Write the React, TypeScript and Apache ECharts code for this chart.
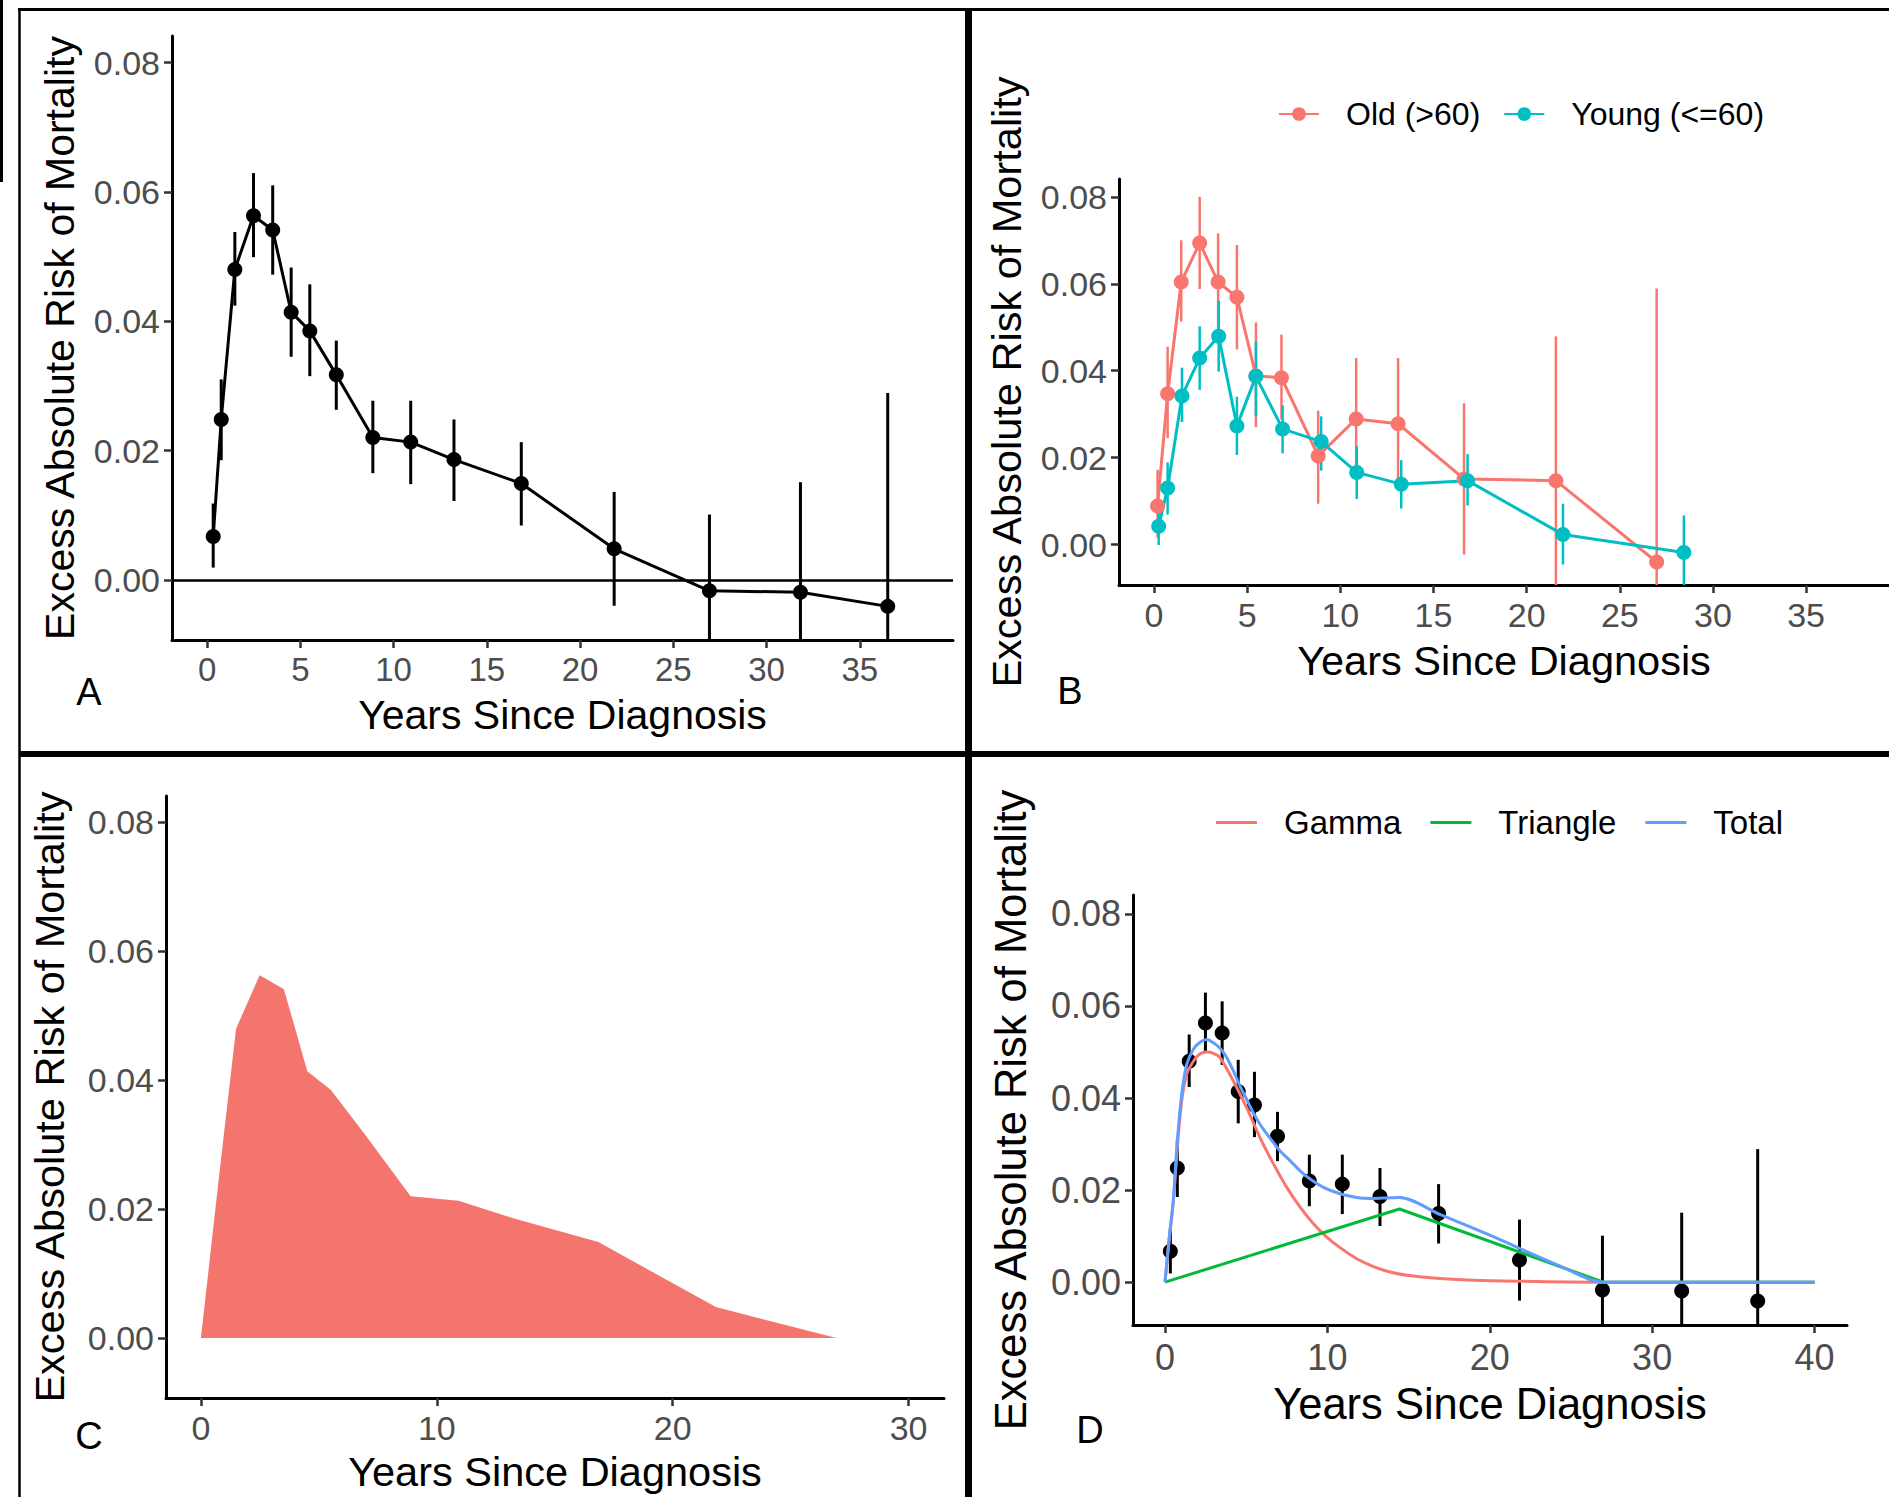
import React, { useEffect, useRef } from 'react';
import * as echarts from 'echarts';

const FONT = '"Liberation Sans", Arial, Helvetica, sans-serif';

// ---- Panel A (and D points): all patients ----
const yearsA = [0.33, 0.76, 1.49, 2.49, 3.52, 4.51, 5.51, 6.93, 8.89, 10.92, 13.24, 16.85, 21.83, 26.94, 31.82, 36.5];
const riskA = [0.0067, 0.0248, 0.048, 0.0563, 0.0541, 0.0414, 0.0385, 0.0317, 0.022, 0.0213, 0.0186, 0.0149, 0.0048, -0.0017, -0.0019, -0.0041];
const lowA = [0.0019, 0.0185, 0.0424, 0.0499, 0.0472, 0.0345, 0.0315, 0.0263, 0.0165, 0.0148, 0.0122, 0.0084, -0.004, -0.0135, -0.0189, -0.037];
const highA = [0.0118, 0.031, 0.0538, 0.0629, 0.061, 0.0483, 0.0457, 0.037, 0.0277, 0.0277, 0.0248, 0.0213, 0.0136, 0.0101, 0.0151, 0.0289];

// ---- Panel B: by age ----
const yearsOld = [0.19, 0.73, 1.46, 2.45, 3.44, 4.45, 5.47, 6.84, 8.81, 10.85, 13.1, 16.64, 21.57, 26.98];
const riskOld = [0.0089, 0.0347, 0.0604, 0.0694, 0.0604, 0.0569, 0.0388, 0.0384, 0.0204, 0.0289, 0.0278, 0.0151, 0.0147, -0.004];
const lowOld = [0.0016, 0.0245, 0.0513, 0.0588, 0.0496, 0.0449, 0.027, 0.0288, 0.0094, 0.015, 0.0139, -0.0023, -0.0185, -0.067];
const highOld = [0.0172, 0.0455, 0.07, 0.08, 0.0716, 0.0689, 0.0511, 0.0483, 0.0308, 0.0429, 0.0429, 0.0325, 0.0479, 0.0589];

const yearsYoung = [0.25, 0.73, 1.5, 2.45, 3.47, 4.45, 5.47, 6.9, 8.97, 10.88, 13.27, 16.83, 21.95, 28.44];
const riskYoung = [0.0042, 0.013, 0.0342, 0.0429, 0.0479, 0.0273, 0.0387, 0.0266, 0.0237, 0.0166, 0.0139, 0.0147, 0.0023, -0.0018];
const lowYoung = [-0.0001, 0.0069, 0.0282, 0.0356, 0.0398, 0.0206, 0.0295, 0.021, 0.017, 0.0105, 0.0083, 0.009, -0.0046, -0.0103];
const highYoung = [0.0094, 0.0189, 0.0407, 0.0502, 0.0561, 0.034, 0.0467, 0.032, 0.0295, 0.0226, 0.0194, 0.0208, 0.0094, 0.0067];

// ---- Panel C: area ----
const yearsC = [0, 0.76, 1.49, 2.49, 3.52, 4.51, 5.51, 6.93, 8.89, 10.92, 13.24, 16.85, 21.83, 26.94];
const riskC = [0, 0.0248, 0.048, 0.0563, 0.0541, 0.0414, 0.0385, 0.0317, 0.022, 0.0213, 0.0186, 0.0149, 0.0048, 0];

// ---- Panel D: fitted curves ----
const gammaX = [0, 0.25, 0.51, 0.76, 1.03, 1.34, 1.75, 2.16, 2.57, 2.98, 3.39, 4.21, 5.03, 5.85, 6.68, 7.5, 8.32, 9.14, 9.96, 10.78, 11.81, 12.84, 13.87, 14.89, 16.95, 19.0, 21.9, 27, 40];
const gammaY = [0, 0.009, 0.0175, 0.0293, 0.0394, 0.0452, 0.048, 0.0496, 0.05, 0.0497, 0.0488, 0.0437, 0.0379, 0.0314, 0.0257, 0.0206, 0.0163, 0.0127, 0.0098, 0.0075, 0.0051, 0.0034, 0.0022, 0.0015, 0.0008, 0.0004, 0.0002, 0, 0];
const triX = [0, 14.44, 27, 40];
const triY = [0, 0.0159, 0, 0];
const totalX = [0, 0.25, 0.51, 0.76, 1.03, 1.34, 1.75, 2.16, 2.57, 2.98, 3.39, 3.8, 4.21, 4.62, 5.03, 5.44, 5.85, 6.27, 6.68, 7.09, 7.7, 8.32, 8.94, 9.76, 10.78, 11.81, 12.84, 13.66, 14.44, 17, 20, 24.34, 27, 40];
const totalY = [0, 0.0093, 0.0177, 0.0307, 0.0408, 0.0473, 0.0506, 0.0521, 0.0527, 0.052, 0.0508, 0.0488, 0.0459, 0.0426, 0.0397, 0.0368, 0.0343, 0.0322, 0.0303, 0.0285, 0.0264, 0.0242, 0.0224, 0.0206, 0.0192, 0.0184, 0.0182, 0.0183, 0.0184, 0.0146, 0.0102, 0.0035, 0, 0];

// ---- ticks ----
const ticksAB = [0, 5, 10, 15, 20, 25, 30, 35];
const ticksC = [0, 10, 20, 30];
const ticksD = [0, 10, 20, 30, 40];
const ticksY = [0, 0.02, 0.04, 0.06, 0.08];

const X_TITLE = 'Years Since Diagnosis';
const Y_TITLE = 'Excess Absolute Risk of Mortality';
const RED = '#F8766D';
const TEAL = '#00BFC4';
const GREEN = '#00BA38';
const BLUE = '#619CFF';

const Y_MIN = -0.0093;
const Y_MAX = 0.0841;

const pairs = (xs: number[], ys: number[]) => xs.map((x, i) => [x, ys[i]]);

function xAxis(gi: number, min: number, max: number, ticks: number[], gap: number, titleSize: number, tickSize: number, margin: number) {
  return {
    type: 'value', gridIndex: gi, min, max,
    name: X_TITLE, nameLocation: 'middle', nameGap: gap,
    nameTextStyle: { fontSize: titleSize, color: '#000', fontFamily: FONT },
    axisLine: { show: true, onZero: false, lineStyle: { color: '#000', width: 3 } },
    axisTick: { show: true, customValues: ticks, length: 8, lineStyle: { color: '#333', width: 2.5 } },
    axisLabel: { customValues: ticks, fontSize: tickSize, color: '#4D4D4D', margin, fontFamily: FONT },
    splitLine: { show: false },
  };
}
function yAxis(gi: number, gap: number, titleSize: number, tickSize: number) {
  return {
    type: 'value', gridIndex: gi, min: Y_MIN, max: Y_MAX,
    name: Y_TITLE, nameLocation: 'middle', nameGap: gap, nameRotate: 90,
    nameTextStyle: { fontSize: titleSize, color: '#000', fontFamily: FONT },
    axisLine: { show: true, onZero: false, lineStyle: { color: '#000', width: 3 } },
    axisTick: { show: true, customValues: ticksY, length: 8, lineStyle: { color: '#333', width: 2.5 } },
    axisLabel: { customValues: ticksY, fontSize: tickSize, color: '#4D4D4D', margin: 12, fontFamily: FONT,
      formatter: (v: number) => v.toFixed(2) },
    splitLine: { show: false },
  };
}
function errBars(idx: number, xs: number[], lo: number[], hi: number[], color: string, width: number) {
  return {
    type: 'custom', xAxisIndex: idx, yAxisIndex: idx, silent: true, z: 2,
    data: xs.map((x, i) => [x, lo[i], hi[i]]),
    encode: { x: 0, y: [1, 2] },
    renderItem: (params: any, api: any) => {
      const p1 = api.coord([api.value(0), api.value(1)]);
      const p2 = api.coord([api.value(0), api.value(2)]);
      const cs = params.coordSys;
      const clamp = (y: number) => Math.max(cs.y, Math.min(cs.y + cs.height, y));
      return {
        type: 'line',
        shape: { x1: p1[0], y1: clamp(p1[1]), x2: p2[0], y2: clamp(p2[1]) },
        style: { stroke: color, lineWidth: width },
      };
    },
  };
}

function buildOption() {
  const lineEl = (x1: number, y1: number, x2: number, y2: number, w: number) => ({
    type: 'line', silent: true, shape: { x1, y1, x2, y2 }, style: { stroke: '#000', lineWidth: w },
  });
  const letter = (t: string, x: number, y: number) => ({
    type: 'text', x, y, silent: true,
    style: { text: t, fontSize: 38, fontFamily: FONT, fill: '#000', align: 'center', verticalAlign: 'middle' },
  });
  return {
    animation: false,
    backgroundColor: '#fff',
    grid: [
      { left: 172, top: 36, width: 781, height: 604 },
      { left: 1119, top: 179, width: 770, height: 406 },
      { left: 166, top: 796, width: 778, height: 602 },
      { left: 1133, top: 895, width: 714, height: 430 },
    ],
    xAxis: [
      xAxis(0, -1.88, 40, ticksAB, 54, 41, 33, 13),
      xAxis(1, -1.88, 39.45, ticksAB, 54, 41.5, 34, 13),
      xAxis(2, -1.48, 31.5, ticksC, 52, 41.5, 34, 13),
      xAxis(3, -1.97, 42, ticksD, 57, 43.5, 36, 14),
    ],
    yAxis: [yAxis(0, 92, 41, 34), yAxis(1, 92, 41.5, 34), yAxis(2, 96, 41.5, 34), yAxis(3, 100, 43.5, 36)],
    legend: [
      {
        data: ['Old (>60)', 'Young (<=60)'], left: 1278, top: 98, padding: 0,
        itemWidth: 40, itemHeight: 17, itemGap: 23,
        textStyle: { fontSize: 32, color: '#000', fontFamily: FONT, padding: [0, 0, 0, 22] },
      },
      {
        data: ['Gamma', 'Triangle', 'Total'], left: 1216, top: 806, padding: 0,
        icon: 'rect', itemWidth: 41, itemHeight: 3, itemGap: 29,
        textStyle: { fontSize: 33, color: '#000', fontFamily: FONT, padding: [0, 0, 0, 22] },
      },
    ],
    graphic: [
      lineEl(18, 9.5, 1889, 9.5, 3),
      lineEl(19.5, 9, 19.5, 1497, 2.5),
      lineEl(1.5, 0, 1.5, 182, 3),
      lineEl(968.5, 9, 968.5, 1497, 7),
      lineEl(19, 754, 1889, 754, 6),
      letter('A', 89, 692),
      letter('B', 1070, 691),
      letter('C', 89, 1436),
      letter('D', 1090, 1430),
    ],
    series: [
      // A
      errBars(0, yearsA, lowA, highA, '#000', 3),
      {
        type: 'line', name: 'All', xAxisIndex: 0, yAxisIndex: 0, z: 3,
        data: pairs(yearsA, riskA), symbol: 'circle', symbolSize: 15, showAllSymbol: true,
        lineStyle: { color: '#000', width: 3 }, itemStyle: { color: '#000' },
        markLine: {
          silent: true, symbol: 'none', label: { show: false },
          lineStyle: { color: '#000', width: 2.5, type: 'solid' },
          data: [{ yAxis: 0 }],
        },
      },
      // B
      errBars(1, yearsOld, lowOld, highOld, RED, 2.5),
      errBars(1, yearsYoung, lowYoung, highYoung, TEAL, 2.5),
      {
        type: 'line', name: 'Old (>60)', xAxisIndex: 1, yAxisIndex: 1, z: 3,
        data: pairs(yearsOld, riskOld), symbol: 'circle', symbolSize: 15, showAllSymbol: true,
        lineStyle: { color: RED, width: 3 }, itemStyle: { color: RED },
      },
      {
        type: 'line', name: 'Young (<=60)', xAxisIndex: 1, yAxisIndex: 1, z: 3,
        data: pairs(yearsYoung, riskYoung), symbol: 'circle', symbolSize: 15, showAllSymbol: true,
        lineStyle: { color: TEAL, width: 3 }, itemStyle: { color: TEAL },
      },
      // C
      {
        type: 'line', name: 'Area', xAxisIndex: 2, yAxisIndex: 2,
        data: pairs(yearsC, riskC), symbol: 'none',
        lineStyle: { width: 0, color: RED }, itemStyle: { color: RED },
        areaStyle: { color: '#F4756D', opacity: 1 },
      },
      // D
      errBars(3, yearsA, lowA, highA, '#000', 3),
      {
        type: 'scatter', name: 'Observed', xAxisIndex: 3, yAxisIndex: 3, z: 3,
        data: pairs(yearsA, riskA), symbol: 'circle', symbolSize: 15, itemStyle: { color: '#000', opacity: 1 },
      },
      {
        type: 'line', name: 'Gamma', xAxisIndex: 3, yAxisIndex: 3, z: 4,
        data: pairs(gammaX, gammaY), symbol: 'none', smooth: 0.3,
        lineStyle: { color: RED, width: 3 }, itemStyle: { color: RED },
      },
      {
        type: 'line', name: 'Triangle', xAxisIndex: 3, yAxisIndex: 3, z: 4,
        data: pairs(triX, triY), symbol: 'none',
        lineStyle: { color: GREEN, width: 3 }, itemStyle: { color: GREEN },
      },
      {
        type: 'line', name: 'Total', xAxisIndex: 3, yAxisIndex: 3, z: 5,
        data: pairs(totalX, totalY), symbol: 'none', smooth: 0.3,
        lineStyle: { color: BLUE, width: 3 }, itemStyle: { color: BLUE },
      },
    ],
  };
}

export default function App() {
  const ref = useRef<HTMLDivElement>(null);
  useEffect(() => {
    document.body.style.margin = '0';
    const chart = echarts.init(ref.current as HTMLDivElement, null, { renderer: 'svg' });
    chart.setOption(buildOption() as any);
    return () => chart.dispose();
  }, []);
  return <div ref={ref} style={{ width: 1889, height: 1497 }} />;
}
